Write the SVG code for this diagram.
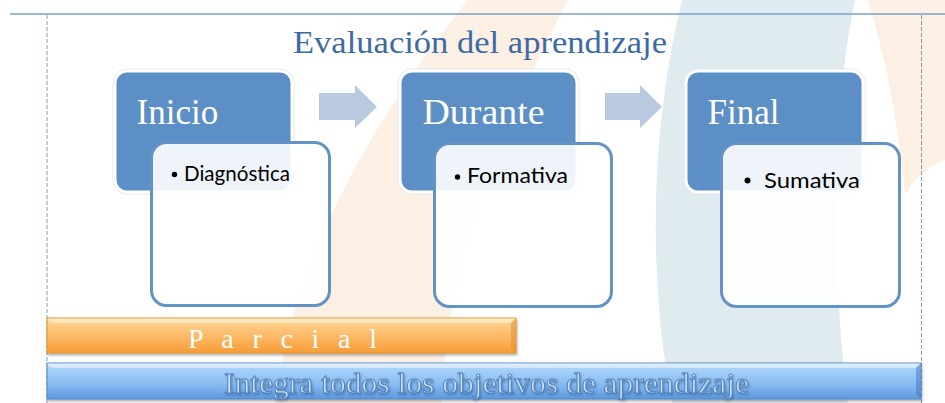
<svg xmlns="http://www.w3.org/2000/svg" width="945" height="403" viewBox="0 0 945 403">
<defs>
<style>
.frame{fill:none;stroke:#dfe4ea;stroke-width:1}
.head{fill:#5b8fc5;stroke:#ffffff;stroke-width:3}
.body{fill:#ffffff;fill-opacity:0.9;stroke:#6393c6;stroke-width:3}
.htxt{font-family:"Liberation Serif",serif;font-size:35px;fill:#ffffff}
.btxt{font-family:Lato,"Liberation Sans",Arial,sans-serif;font-size:21px;fill:#000000}
.bul{fill:#000000}
.arrow{fill:#b9c9df}
.dash{stroke:#7f9fc2;stroke-width:1;stroke-dasharray:4 2;fill:none}
</style>
<linearGradient id="gOr" x1="0" y1="0" x2="0" y2="1">
<stop offset="0" stop-color="#fee2b0"/>
<stop offset="0.15" stop-color="#fdcf8c"/>
<stop offset="0.6" stop-color="#fbb45e"/>
<stop offset="1" stop-color="#f69c35"/>
</linearGradient>
<linearGradient id="gBl" x1="0" y1="0" x2="0" y2="1">
<stop offset="0" stop-color="#dcefff"/>
<stop offset="0.15" stop-color="#a9d2fb"/>
<stop offset="0.6" stop-color="#86bbf2"/>
<stop offset="1" stop-color="#5c98df"/>
</linearGradient>
<filter id="sh" x="-5%" y="-20%" width="110%" height="160%">
<feDropShadow dx="1" dy="2" stdDeviation="1.2" flood-color="#000" flood-opacity="0.3"/>
</filter>
<filter id="tsh" x="-5%" y="-20%" width="110%" height="160%">
<feDropShadow dx="1" dy="1.5" stdDeviation="0.8" flood-color="#2a4f80" flood-opacity="0.5"/>
</filter>
</defs>

<rect width="945" height="403" fill="#ffffff"/>
<g id="background">
<path d="M468,0 L568,0 C505,120 445,260 442,403 L275,403 C295,250 380,110 468,0 Z" fill="#fcefe3"/>
<path d="M682,0 L855,0 C830,120 832,280 848,403 L672,403 C648,280 650,130 682,0 Z" fill="#e0ebef"/>
<path d="M868,0 L945,0 L945,160 C930,165 912,180 905,195 C898,120 885,55 868,0 Z" fill="#fcefe3"/>
</g>

<g id="frame">
<line x1="10" y1="14" x2="945" y2="14" stroke="#7aa3cf" stroke-width="1.5"/>
<line class="dash" x1="47" y1="15" x2="47" y2="403"/>
<line class="dash" x1="921.5" y1="15" x2="921.5" y2="403"/>
</g>

<g id="title">
<text x="293" y="53" font-family="'Liberation Serif',serif" font-size="32" fill="#3e6aa2" textLength="374" lengthAdjust="spacingAndGlyphs">Evaluación del aprendizaje</text>
</g>

<g id="connectors">
<polygon class="arrow" points="319,93 355,93 355,85 377,107 355,128 355,120 319,120"/>
<polygon class="arrow" points="605,93 640,93 640,85 662,107 640,128 640,120 605,120"/>
</g>

<g id="inicio">
<rect class="frame" x="113" y="69" width="181" height="125" rx="14"/>
<rect class="head" x="115" y="71" width="177" height="121" rx="12"/>
<text class="htxt" x="136.5" y="124">Inicio</text>
<rect class="body" x="151.5" y="142.5" width="178" height="163" rx="15"/>
<circle class="bul" cx="174.5" cy="174.5" r="2.7"/>
<text class="btxt" x="184" y="180.5" textLength="106" lengthAdjust="spacingAndGlyphs">Diagnóstica</text>
</g>

<g id="durante">
<rect class="frame" x="398" y="69" width="181" height="125" rx="14"/>
<rect class="head" x="400" y="71" width="177" height="121" rx="12"/>
<text class="htxt" x="422.5" y="124" textLength="122" lengthAdjust="spacingAndGlyphs">Durante</text>
<rect class="body" x="434.5" y="143.5" width="177" height="163" rx="15"/>
<circle class="bul" cx="457.5" cy="177" r="2.7"/>
<text class="btxt" x="467" y="183.3" textLength="101" lengthAdjust="spacingAndGlyphs">Formativa</text>
</g>

<g id="final">
<rect class="frame" x="684" y="69" width="181" height="125" rx="14"/>
<rect class="head" x="686" y="71" width="177" height="121" rx="12"/>
<text class="htxt" x="707.5" y="124">Final</text>
<rect class="body" x="721.5" y="143.5" width="178" height="163" rx="15"/>
<circle class="bul" cx="747.5" cy="180.5" r="3"/>
<text class="btxt" x="764" y="188.3" font-size="23" textLength="96" lengthAdjust="spacingAndGlyphs">Sumativa</text>
</g>

<g id="parcial">
<rect x="47" y="318" width="469" height="35" fill="url(#gOr)" stroke="#e0922f" stroke-width="1" filter="url(#sh)"/>
<polygon points="47.5,318.5 515.5,318.5 511,323 52,323" fill="#fff3d6" opacity="0.6"/>
<polygon points="515.5,318.5 515.5,352.5 511,348 511,323" fill="#e08a25" opacity="0.5"/>
<text x="188" y="347.5" font-family="'Liberation Serif',serif" font-size="28" fill="#ffffff" textLength="189" lengthAdjust="spacing">P a r c i a l</text>
</g>

<g id="integra">
<rect x="47" y="363" width="874" height="36" fill="url(#gBl)" stroke="#4f86c6" stroke-width="1" filter="url(#sh)"/>
<polygon points="47.5,363.5 920.5,363.5 916,368 52,368" fill="#e8f4ff" opacity="0.6"/>
<polygon points="920.5,363.5 920.5,398.5 916,394 916,368" fill="#3f78c0" opacity="0.5"/>
<text x="224" y="392.5" font-family="'Liberation Serif',serif" font-size="30" fill="#cfe4f8" stroke="#4f80b9" stroke-width="0.9" filter="url(#tsh)" textLength="525" lengthAdjust="spacingAndGlyphs">Integra todos los objetivos de aprendizaje</text>
</g>
</svg>
